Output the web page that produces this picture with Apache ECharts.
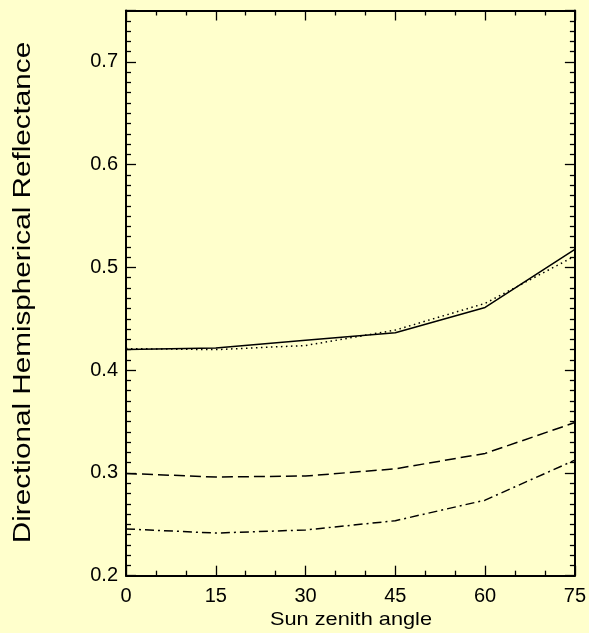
<!DOCTYPE html>
<html>
<head>
<meta charset="utf-8">
<script src="https://cdn.jsdelivr.net/npm/echarts@6/dist/echarts.min.js"></script>
<style>
  html, body { margin: 0; padding: 0; background: #ffffcc; }
  #chart { width: 589px; height: 633px; }
</style>
</head>
<body>
<div id="chart"></div>
<script>
// Sun zenith angles (degrees)
const angles = [0, 15, 30, 45, 60, 75];
// Directional hemispherical reflectance, one array per curve
const solidCurve   = [0.420, 0.4215, 0.429, 0.4365, 0.461, 0.5175];
const dottedCurve  = [0.421, 0.420, 0.424, 0.439, 0.465, 0.511];
const dashedCurve  = [0.2995, 0.296, 0.297, 0.304, 0.319, 0.349];
const dashDotCurve = [0.2455, 0.2415, 0.2445, 0.2535, 0.2735, 0.3125];

const xTitle = 'Sun zenith angle';
const yTitle = 'Directional Hemispherical Reflectance';

const font = 'Liberation Sans, Arial, Helvetica, sans-serif';
const ink = '#000';

function pairs(ys) { return angles.map((a, i) => [a, ys[i]]); }

function xAxisDef(pos, labels) {
  return {
    type: 'value', position: pos, min: 0, max: 75, interval: 15,
    axisLine: { show: true, onZero: false, lineStyle: { color: ink, width: 2 } },
    axisTick: { show: true, inside: true, length: 10, lineStyle: { color: ink, width: 1.3 } },
    minorTick: { show: true, splitNumber: 3, length: 5, lineStyle: { color: ink, width: 1.3 } },
    axisLabel: { show: labels, margin: 11, color: ink, fontSize: 20, fontFamily: font },
    splitLine: { show: false }, minorSplitLine: { show: false }
  };
}
function yAxisDef(pos, labels) {
  return {
    type: 'value', position: pos, min: 0.2, max: 0.75, interval: 0.1,
    axisLine: { show: true, onZero: false, lineStyle: { color: ink, width: 2 } },
    axisTick: { show: true, inside: true, length: 10, lineStyle: { color: ink, width: 1.3 } },
    minorTick: { show: true, splitNumber: 10, length: 5, lineStyle: { color: ink, width: 1.3 } },
    axisLabel: { show: labels, margin: 8, color: ink, fontSize: 20, fontFamily: font,
                 showMaxLabel: false, formatter: v => v.toFixed(1) },
    splitLine: { show: false }, minorSplitLine: { show: false }
  };
}
function curve(ys, type) {
  return {
    type: 'line', data: pairs(ys), xAxisIndex: 0, yAxisIndex: 0,
    symbol: 'none', smooth: false, silent: true, animation: false,
    lineStyle: { color: ink, width: 1.5, type: type }
  };
}

const chart = echarts.init(document.getElementById('chart'), null, { renderer: 'canvas' });
chart.setOption({
  backgroundColor: '#ffffcc',
  animation: false,
  grid: { left: 126, top: 10.5, width: 451, height: 565.2, containLabel: false },
  xAxis: [xAxisDef('bottom', true), xAxisDef('top', false)],
  yAxis: [yAxisDef('left', true), yAxisDef('right', false)],
  series: [
    curve(solidCurve, 'solid'),
    curve(dottedCurve, [1.5, 3.5]),
    curve(dashedCurve, [11, 5]),
    curve(dashDotCurve, [9, 4, 2, 4])
  ],
  graphic: [
    {
      type: 'text', x: 24, y: 292.5, rotation: Math.PI / 2, scaleX: 1.29,
      style: { text: yTitle, fill: ink, font: '23px ' + font, align: 'center', verticalAlign: 'middle' }
    },
    {
      type: 'text', x: 351, y: 620, scaleX: 1.145,
      style: { text: xTitle, fill: ink, font: '19px ' + font, align: 'center', verticalAlign: 'middle' }
    }
  ]
});
</script>
</body>
</html>
